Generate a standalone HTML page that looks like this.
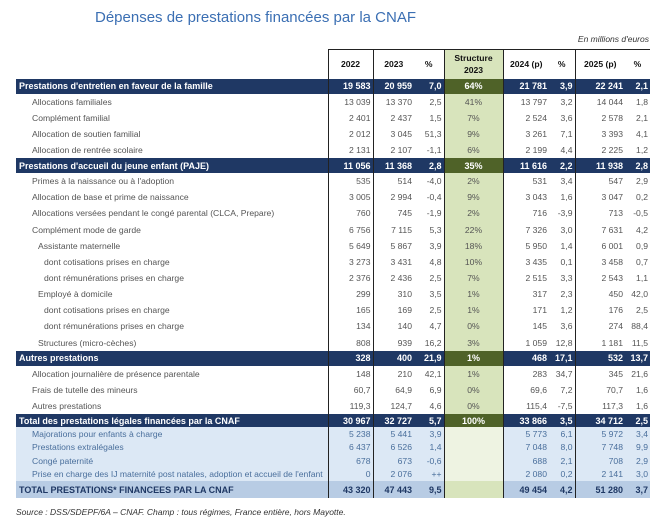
<!DOCTYPE html>
<html><head><meta charset="utf-8"><style>
body{margin:0;width:663px;height:521px;background:#fff;font-family:"Liberation Sans",sans-serif;position:relative;overflow:hidden}
.t{position:absolute;left:95px;top:9px;font-size:15px;color:#3b6fb3}
.u{position:absolute;right:14px;top:34px;font-size:8.5px;font-style:italic;color:#333}
.s{position:absolute;left:16px;top:507px;font-size:8.5px;font-style:italic;color:#333}
table{position:absolute;left:16px;top:49px;border-collapse:collapse;table-layout:fixed;width:634px;font-size:8.6px;color:#555}
td{padding:0 2px;white-space:nowrap;overflow:hidden;text-align:right;line-height:12px}
tr{height:16.15px}
td.l{text-align:left}
td.g{background:#d8e4bc;text-align:center}
.b{border-left:1.2px solid #222}
tr.h{height:29px}
tr.h td{font-weight:bold;color:#111;text-align:center;border-top:1px solid #222}
tr.d{height:15px}
tr.d td{background:#1f3864;color:#fff;font-weight:bold;font-size:9px}
tr.d td.g{background:#4f6228}
tr.d td.l{padding-left:3px}
tr.k{height:13px}
tr.lb{height:13.5px}
tr.lb td{background:#dce8f5;color:#4a6f9c}
tr.lb td.g{background:#eef3e2}
tr.tt{height:17px}
tr.tt td{background:#b8cce4;color:#1f3864;font-weight:bold;font-size:9px}
tr.tt td.g{background:#d8e4bc}
.i1{padding-left:16px}.i2{padding-left:22px}.i3{padding-left:28px}
</style></head><body>
<div class="t">Dépenses de prestations financées par la CNAF</div>
<div class="u">En millions d'euros</div>
<table>
<colgroup><col style="width:312px"><col style="width:45px"><col style="width:41px"><col style="width:30px"><col style="width:59px"><col style="width:46px"><col style="width:26px"><col style="width:50px"><col style="width:25px"></colgroup>
<tr class="h"><td style="border-top:none"></td><td class="b">2022</td><td class="b">2023</td><td>%</td><td class="g b">Structure<br>2023</td><td class="b">2024 (p)</td><td>%</td><td class="b">2025 (p)</td><td>%</td></tr>
<tr class="d"><td class="l">Prestations d'entretien en faveur de la famille</td><td class="b">19 583</td><td class="b">20 959</td><td>7,0</td><td class="g b">64%</td><td class="b">21 781</td><td>3,9</td><td class="b">22 241</td><td>2,1</td></tr>
<tr><td class="l i1">Allocations familiales</td><td class="b">13 039</td><td class="b">13 370</td><td>2,5</td><td class="g b">41%</td><td class="b">13 797</td><td>3,2</td><td class="b">14 044</td><td>1,8</td></tr>
<tr><td class="l i1">Complément familial</td><td class="b">2 401</td><td class="b">2 437</td><td>1,5</td><td class="g b">7%</td><td class="b">2 524</td><td>3,6</td><td class="b">2 578</td><td>2,1</td></tr>
<tr><td class="l i1">Allocation de soutien familial</td><td class="b">2 012</td><td class="b">3 045</td><td>51,3</td><td class="g b">9%</td><td class="b">3 261</td><td>7,1</td><td class="b">3 393</td><td>4,1</td></tr>
<tr><td class="l i1">Allocation de rentrée scolaire</td><td class="b">2 131</td><td class="b">2 107</td><td>-1,1</td><td class="g b">6%</td><td class="b">2 199</td><td>4,4</td><td class="b">2 225</td><td>1,2</td></tr>
<tr class="d"><td class="l">Prestations d'accueil du jeune enfant (PAJE)</td><td class="b">11 056</td><td class="b">11 368</td><td>2,8</td><td class="g b">35%</td><td class="b">11 616</td><td>2,2</td><td class="b">11 938</td><td>2,8</td></tr>
<tr><td class="l i1">Primes à la naissance ou à l'adoption</td><td class="b">535</td><td class="b">514</td><td>-4,0</td><td class="g b">2%</td><td class="b">531</td><td>3,4</td><td class="b">547</td><td>2,9</td></tr>
<tr><td class="l i1">Allocation de base et prime de naissance</td><td class="b">3 005</td><td class="b">2 994</td><td>-0,4</td><td class="g b">9%</td><td class="b">3 043</td><td>1,6</td><td class="b">3 047</td><td>0,2</td></tr>
<tr><td class="l i1">Allocations versées pendant le congé parental (CLCA, Prepare)</td><td class="b">760</td><td class="b">745</td><td>-1,9</td><td class="g b">2%</td><td class="b">716</td><td>-3,9</td><td class="b">713</td><td>-0,5</td></tr>
<tr><td class="l i1">Complément mode de garde</td><td class="b">6 756</td><td class="b">7 115</td><td>5,3</td><td class="g b">22%</td><td class="b">7 326</td><td>3,0</td><td class="b">7 631</td><td>4,2</td></tr>
<tr><td class="l i2">Assistante maternelle</td><td class="b">5 649</td><td class="b">5 867</td><td>3,9</td><td class="g b">18%</td><td class="b">5 950</td><td>1,4</td><td class="b">6 001</td><td>0,9</td></tr>
<tr><td class="l i3">dont cotisations prises en charge</td><td class="b">3 273</td><td class="b">3 431</td><td>4,8</td><td class="g b">10%</td><td class="b">3 435</td><td>0,1</td><td class="b">3 458</td><td>0,7</td></tr>
<tr><td class="l i3">dont rémunérations prises en charge</td><td class="b">2 376</td><td class="b">2 436</td><td>2,5</td><td class="g b">7%</td><td class="b">2 515</td><td>3,3</td><td class="b">2 543</td><td>1,1</td></tr>
<tr><td class="l i2">Employé à domicile</td><td class="b">299</td><td class="b">310</td><td>3,5</td><td class="g b">1%</td><td class="b">317</td><td>2,3</td><td class="b">450</td><td>42,0</td></tr>
<tr><td class="l i3">dont cotisations prises en charge</td><td class="b">165</td><td class="b">169</td><td>2,5</td><td class="g b">1%</td><td class="b">171</td><td>1,2</td><td class="b">176</td><td>2,5</td></tr>
<tr><td class="l i3">dont rémunérations prises en charge</td><td class="b">134</td><td class="b">140</td><td>4,7</td><td class="g b">0%</td><td class="b">145</td><td>3,6</td><td class="b">274</td><td>88,4</td></tr>
<tr><td class="l i2">Structures (micro-cèches)</td><td class="b">808</td><td class="b">939</td><td>16,2</td><td class="g b">3%</td><td class="b">1 059</td><td>12,8</td><td class="b">1 181</td><td>11,5</td></tr>
<tr class="d"><td class="l">Autres prestations</td><td class="b">328</td><td class="b">400</td><td>21,9</td><td class="g b">1%</td><td class="b">468</td><td>17,1</td><td class="b">532</td><td>13,7</td></tr>
<tr><td class="l i1">Allocation journalière de présence parentale</td><td class="b">148</td><td class="b">210</td><td>42,1</td><td class="g b">1%</td><td class="b">283</td><td>34,7</td><td class="b">345</td><td>21,6</td></tr>
<tr><td class="l i1">Frais de tutelle des mineurs</td><td class="b">60,7</td><td class="b">64,9</td><td>6,9</td><td class="g b">0%</td><td class="b">69,6</td><td>7,2</td><td class="b">70,7</td><td>1,6</td></tr>
<tr><td class="l i1">Autres prestations</td><td class="b">119,3</td><td class="b">124,7</td><td>4,6</td><td class="g b">0%</td><td class="b">115,4</td><td>-7,5</td><td class="b">117,3</td><td>1,6</td></tr>
<tr class="d k"><td class="l">Total des prestations légales financées par la CNAF</td><td class="b">30 967</td><td class="b">32 727</td><td>5,7</td><td class="g b">100%</td><td class="b">33 866</td><td>3,5</td><td class="b">34 712</td><td>2,5</td></tr>
<tr class="lb"><td class="l i1">Majorations pour enfants à charge</td><td class="b">5 238</td><td class="b">5 441</td><td>3,9</td><td class="g b"></td><td class="b">5 773</td><td>6,1</td><td class="b">5 972</td><td>3,4</td></tr>
<tr class="lb"><td class="l i1">Prestations extralégales</td><td class="b">6 437</td><td class="b">6 526</td><td>1,4</td><td class="g b"></td><td class="b">7 048</td><td>8,0</td><td class="b">7 748</td><td>9,9</td></tr>
<tr class="lb"><td class="l i1">Congé paternité</td><td class="b">678</td><td class="b">673</td><td>-0,6</td><td class="g b"></td><td class="b">688</td><td>2,1</td><td class="b">708</td><td>2,9</td></tr>
<tr class="lb"><td class="l i1">Prise en charge des IJ maternité post natales, adoption et accueil de l'enfant</td><td class="b">0</td><td class="b">2 076</td><td>++</td><td class="g b"></td><td class="b">2 080</td><td>0,2</td><td class="b">2 141</td><td>3,0</td></tr>
<tr class="tt"><td class="l" style="padding-left:3px">TOTAL PRESTATIONS* FINANCEES PAR LA CNAF</td><td class="b">43 320</td><td class="b">47 443</td><td>9,5</td><td class="g b"></td><td class="b">49 454</td><td>4,2</td><td class="b">51 280</td><td>3,7</td></tr>
</table>
<div class="s">Source : DSS/SDEPF/6A – CNAF. Champ : tous régimes, France entière, hors Mayotte.</div>
</body></html>
